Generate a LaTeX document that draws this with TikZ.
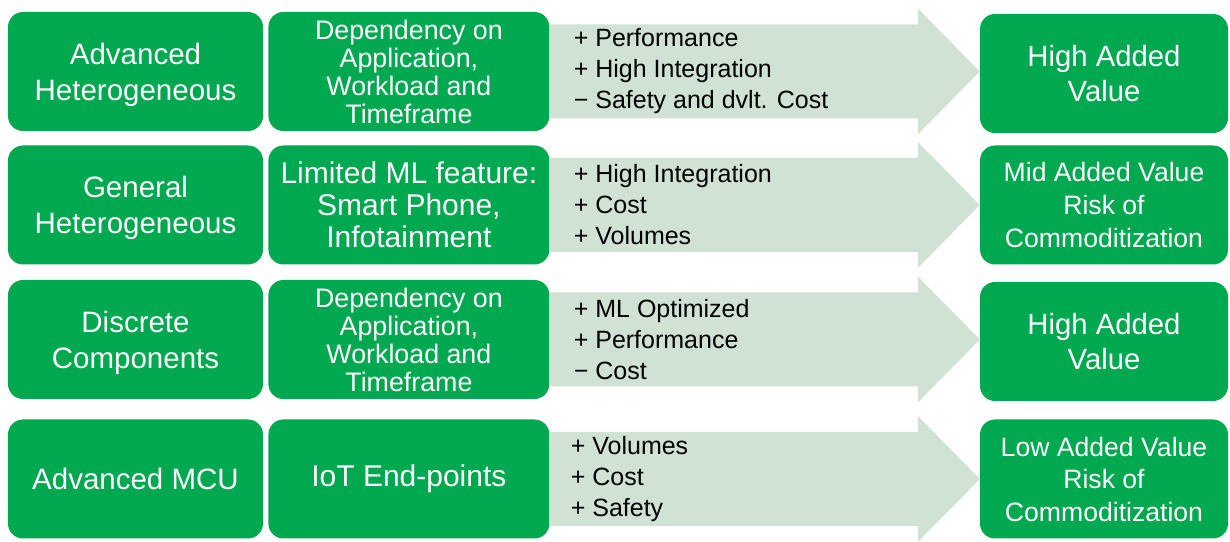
\documentclass[tikz,border=0pt]{standalone}
\usepackage{fontspec}
\setmainfont{Liberation Sans}
\usetikzlibrary{positioning}
\definecolor{leafgreen}{RGB}{0,168,80}
\definecolor{palegreen}{RGB}{207,226,212}
\tikzset{
  block/.style={rectangle, rounded corners=15bp, fill=leafgreen, text=white,
                inner sep=0pt, minimum height=119bp, align=center},
  blockseg/.style={block, minimum width=255bp, font=\fontsize{29.5bp}{36bp}\selectfont},
  blockdrv/.style={block, minimum width=281bp, font=\fontsize{26.8bp}{28bp}\selectfont},
  blockval/.style={block, minimum width=248bp, font=\fontsize{29.3bp}{35bp}\selectfont},
  band/.style={fill=palegreen},
  pros/.style={anchor=west, align=left, inner sep=0pt, font=\fontsize{25bp}{31bp}\selectfont},
}

\begin{document}
\begin{tikzpicture}[x=1bp, y=1bp, node distance=5bp]
\useasboundingbox (0,0) rectangle (1230,542);

% market segments
\node[blockseg, text depth=0pt] (a1) at (135.5,470.5) {Advanced\\Heterogeneous};
\node[blockseg, text depth=0pt] (a2) at (135.5,337) {General\\Heterogeneous};
\node[blockseg, text depth=0pt] (a3) at (135.5,202.5) {Discrete\\Components};
\node[blockseg] (a4) at (135.5,63) {Advanced MCU};

% what drives each segment
\node[blockdrv, right=of a1] (d1) {Dependency on\\Application,\\Workload and\\Timeframe};
\node[blockdrv, right=of a2, font=\fontsize{30bp}{32bp}\selectfont] (d2) {Limited ML feature:\\Smart Phone,\\Infotainment};
\node[blockdrv, right=of a3] (d3) {Dependency on\\Application,\\Workload and\\Timeframe};
\node[blockdrv, right=of a4, font=\fontsize{30bp}{32bp}\selectfont] (d4) {IoT End-points};

% resulting value
\node[blockval] (v1) at (1104,468.5) {High Added\\Value};
\node[blockval, font=\fontsize{26.6bp}{32.5bp}\selectfont] (v2) at (1104,337) {Mid Added Value\\Risk of\\Commoditization};
\node[blockval] (v3) at (1104,200.5) {High Added\\Value};
\node[blockval, font=\fontsize{26.6bp}{32.5bp}\selectfont] (v4) at (1104,63) {Low Added Value\\Risk of\\Commoditization};

% wide arrows from drivers to value
\foreach \r in {1,...,4}
  \fill[band] ([yshift=47bp]d\r.east) -- ([xshift=-62bp,yshift=47bp]d\r.east -| v\r.west)
    -- ([xshift=-62bp,yshift=63bp]d\r.east -| v\r.west) -- (d\r.east -| v\r.west)
    -- ([xshift=-62bp,yshift=-63bp]d\r.east -| v\r.west) -- ([xshift=-62bp,yshift=-47bp]d\r.east -| v\r.west)
    -- ([yshift=-47bp]d\r.east) -- cycle;

\node[pros] (p1) at ([xshift=24bp]d1.east) {+ Performance\\+ High Integration\\− Safety and dvlt. Cost};
\node[pros] (p2) at ([xshift=24bp]d2.east) {+ High Integration\\+ Cost\\+ Volumes};
\node[pros] (p3) at ([xshift=24bp]d3.east) {+ ML Optimized\\+ Performance\\− Cost};
\node[pros] (p4) at ([xshift=21bp]d4.east) {+ Volumes\\+ Cost\\+ Safety};
\end{tikzpicture}
\end{document}
